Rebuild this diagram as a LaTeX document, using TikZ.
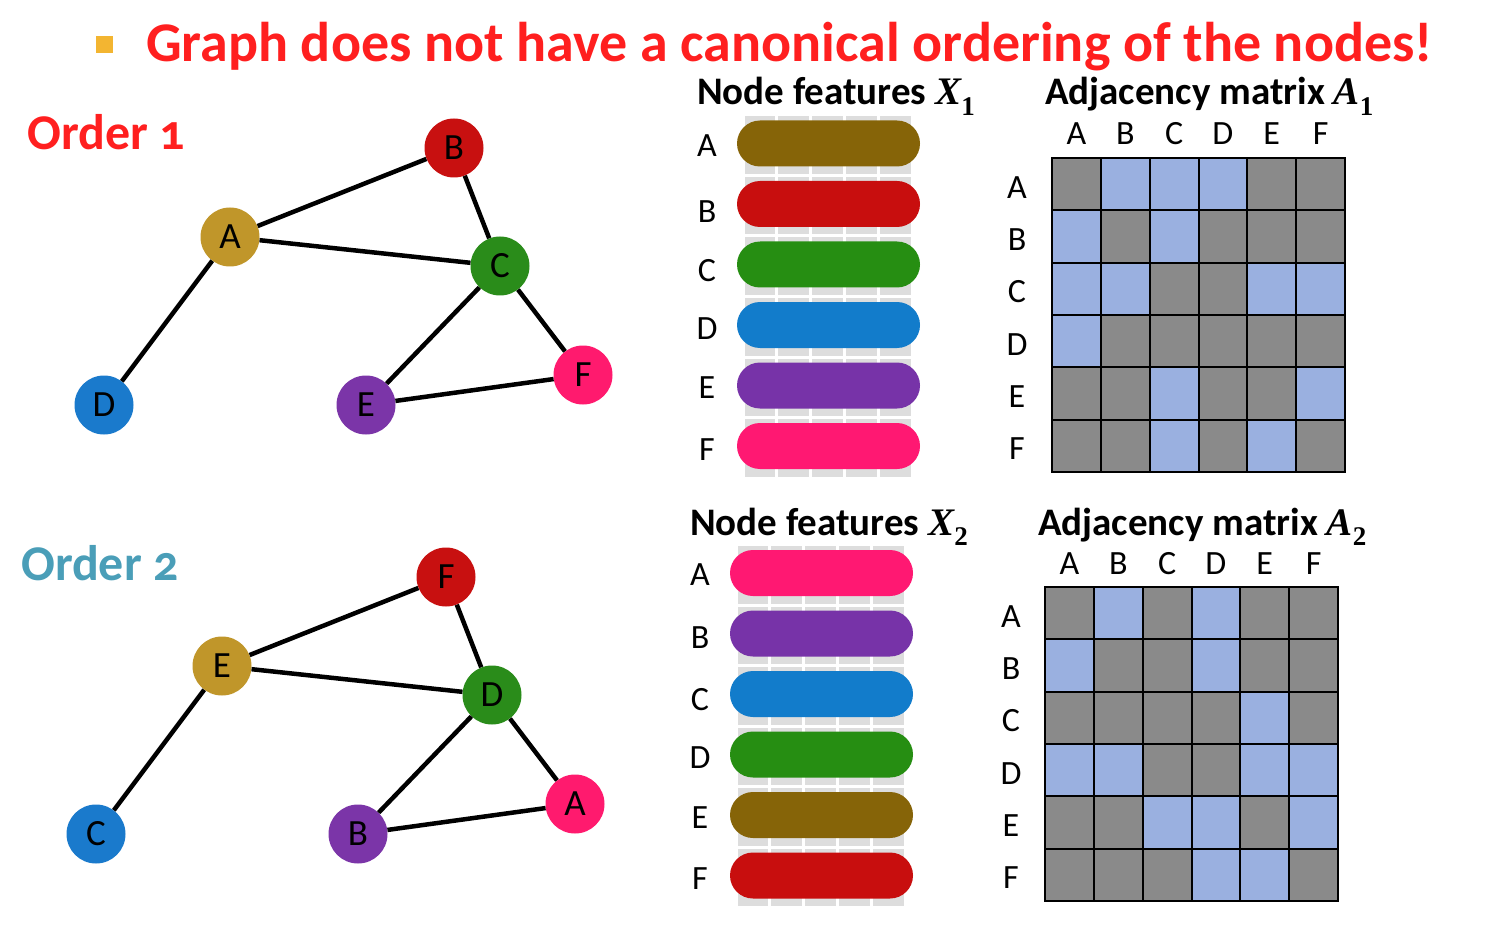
\documentclass[tikz,border=0pt]{standalone}
\usepackage{fontspec}
\setmainfont{Carlito}
\newfontfamily\oldnum[Numbers=OldStyle]{Carlito}
\newfontfamily\mserif{Liberation Serif}
\newcommand{\mvar}[2]{{\mserif\bfseries\itshape #1}\raisebox{-0.28em}{\mserif\bfseries\fontsize{27}{27}\selectfont #2}}
\definecolor{titlered}{HTML}{FF1F1F}
\definecolor{ordteal}{HTML}{4A9EB8}
\definecolor{bulletyel}{HTML}{F3B531}
\definecolor{ngold}{HTML}{C0962A}
\definecolor{nred}{HTML}{C81010}
\definecolor{ngreen}{HTML}{2A8C1A}
\definecolor{nblue}{HTML}{1A7ACC}
\definecolor{npurple}{HTML}{7B35A8}
\definecolor{npink}{HTML}{FF1A6E}
\definecolor{bbrown}{HTML}{866408}
\definecolor{bred}{HTML}{C80E0E}
\definecolor{bgreen}{HTML}{268E12}
\definecolor{bblue}{HTML}{127CCB}
\definecolor{bpurple}{HTML}{7733A8}
\definecolor{bpink}{HTML}{FF1872}
\definecolor{featgray}{HTML}{DDDDDD}
\definecolor{cell0}{HTML}{8A8A8A}
\definecolor{cell1}{HTML}{9AB0E0}
\tikzset{
  gnode/.style={circle, minimum size=59, inner sep=0, font=\fontsize{37}{37}\selectfont},
  gedge/.style={line width=4.5, black},
  lbl/.style={inner sep=0, font=\fontsize{34}{34}\selectfont},
  featbar/.style={rectangle, rounded corners=23, minimum width=183, minimum height=46, inner sep=0},
  heading/.style={inner sep=0, anchor=base west, font=\bfseries\fontsize{39}{39}\selectfont},
}
\begin{document}
\begin{tikzpicture}[x=1pt,y=-1pt]
\useasboundingbox (0,0) rectangle (1492,936);
\fill[white] (0,0) rectangle (1492,936);
% title
\fill[bulletyel] (96,36) rectangle (113,53);
\node[inner sep=0, anchor=base west, text=titlered, font=\bfseries\fontsize{56}{56}\selectfont] (title) at (146,62) {Graph does not have a canonical ordering of the nodes!};
% order labels
\node[inner sep=0, anchor=base west, text=titlered, font=\bfseries\oldnum\fontsize{50}{50}\selectfont] (ord1) at (27,150) {Order 1};
\node[inner sep=0, anchor=base west, text=ordteal, font=\bfseries\oldnum\fontsize{50}{50}\selectfont] (ord2) at (21,580) {Order 2};
% graph 1
\node[gnode, fill=ngold] (a1) at (230,237) {A};
\node[gnode, fill=nred] (b1) at (454,148) {B};
\node[gnode, fill=ngreen] (c1) at (500,266) {C};
\node[gnode, fill=nblue] (d1) at (104,405) {D};
\node[gnode, fill=npurple] (e1) at (366,405) {E};
\node[gnode, fill=npink] (f1) at (583,375) {F};
\draw[gedge] (a1) -- (b1); \draw[gedge] (a1) -- (c1); \draw[gedge] (b1) -- (c1);
\draw[gedge] (a1) -- (d1); \draw[gedge] (c1) -- (e1); \draw[gedge] (c1) -- (f1);
\draw[gedge] (e1) -- (f1);
% graph 2
\node[gnode, fill=ngold] (e2) at (222,666) {E};
\node[gnode, fill=nred] (f2) at (446,577) {F};
\node[gnode, fill=ngreen] (d2) at (492,695) {D};
\node[gnode, fill=nblue] (c2) at (96,834) {C};
\node[gnode, fill=npurple] (b2) at (358,834) {B};
\node[gnode, fill=npink] (a2) at (575,804) {A};
\draw[gedge] (e2) -- (f2); \draw[gedge] (e2) -- (d2); \draw[gedge] (f2) -- (d2);
\draw[gedge] (e2) -- (c2); \draw[gedge] (d2) -- (b2); \draw[gedge] (d2) -- (a2);
\draw[gedge] (b2) -- (a2);
% node features 1
\node[heading] (nf1) at (697,105) {Node features \mvar{X}{1}};
\foreach \r in {0,...,5}{
  \foreach \c in {0,...,4}{
    \fill[featgray] ({743+\c*33.8+1.5},{115+\r*60.5+1.5}) rectangle ({743+(\c+1)*33.8-1.5},{115+(\r+1)*60.5-1.5});
  }
}
\foreach \i/\col/\t/\ly in {0/bbrown/A/146, 1/bred/B/212, 2/bgreen/C/271, 3/bblue/D/329, 4/bpurple/E/388, 5/bpink/F/450}{
  \node[featbar, fill=\col] (fa\i) at (828.5,{143.5+\i*60.5}) {};
  \node[lbl] (fla\i) at (707,\ly) {\t};
}
% node features 2
\node[heading] (nf2) at (690,535) {Node features \mvar{X}{2}};
\foreach \r in {0,...,5}{
  \foreach \c in {0,...,4}{
    \fill[featgray] ({736+\c*33.8+1.5},{544.5+\r*60.5+1.5}) rectangle ({736+(\c+1)*33.8-1.5},{544.5+(\r+1)*60.5-1.5});
  }
}
\foreach \i/\col/\t/\ly in {0/bpink/A/575, 1/bpurple/B/638, 2/bblue/C/700, 3/bgreen/D/758, 4/bbrown/E/818, 5/bred/F/879}{
  \node[featbar, fill=\col] (fb\i) at (821.5,{573+\i*60.5}) {};
  \node[lbl] (flb\i) at (700,\ly) {\t};
}
% adjacency matrix 1
\node[heading] (am1) at (1045,105) {Adjacency matrix \mvar{A}{1}};
\foreach \r/\row in {0/{0,1,1,1,0,0},1/{1,0,1,0,0,0},2/{1,1,0,0,1,1},3/{1,0,0,0,0,0},4/{0,0,1,0,0,1},5/{0,0,1,0,1,0}}{
  \foreach \v [count=\c from 0] in \row {
    \filldraw[fill=cell\v, draw=black, line width=2] ({1052+\c*48.83},{158+\r*52.33}) rectangle ({1052+(\c+1)*48.83},{158+(\r+1)*52.33});
  }
}
\foreach \t [count=\k from 0] in {A,B,C,D,E,F}{
  \node[lbl] (mc1\k) at ({1052+(\k+0.5)*48.83},134) {\t};
  \node[lbl] (mr1\k) at (1017,{158+(\k+0.5)*52.33+3}) {\t};
}
% adjacency matrix 2
\node[heading] (am2) at (1038,535) {Adjacency matrix \mvar{A}{2}};
\foreach \r/\row in {0/{0,1,0,1,0,0},1/{1,0,0,1,0,0},2/{0,0,0,0,1,0},3/{1,1,0,0,1,1},4/{0,0,1,1,0,1},5/{0,0,0,1,1,0}}{
  \foreach \v [count=\c from 0] in \row {
    \filldraw[fill=cell\v, draw=black, line width=2] ({1045+\c*48.83},{587+\r*52.33}) rectangle ({1045+(\c+1)*48.83},{587+(\r+1)*52.33});
  }
}
\foreach \t [count=\k from 0] in {A,B,C,D,E,F}{
  \node[lbl] (mc2\k) at ({1045+(\k+0.5)*48.83},564) {\t};
  \node[lbl] (mr2\k) at (1011,{587+(\k+0.5)*52.33+3}) {\t};
}
\end{tikzpicture}
\end{document}
